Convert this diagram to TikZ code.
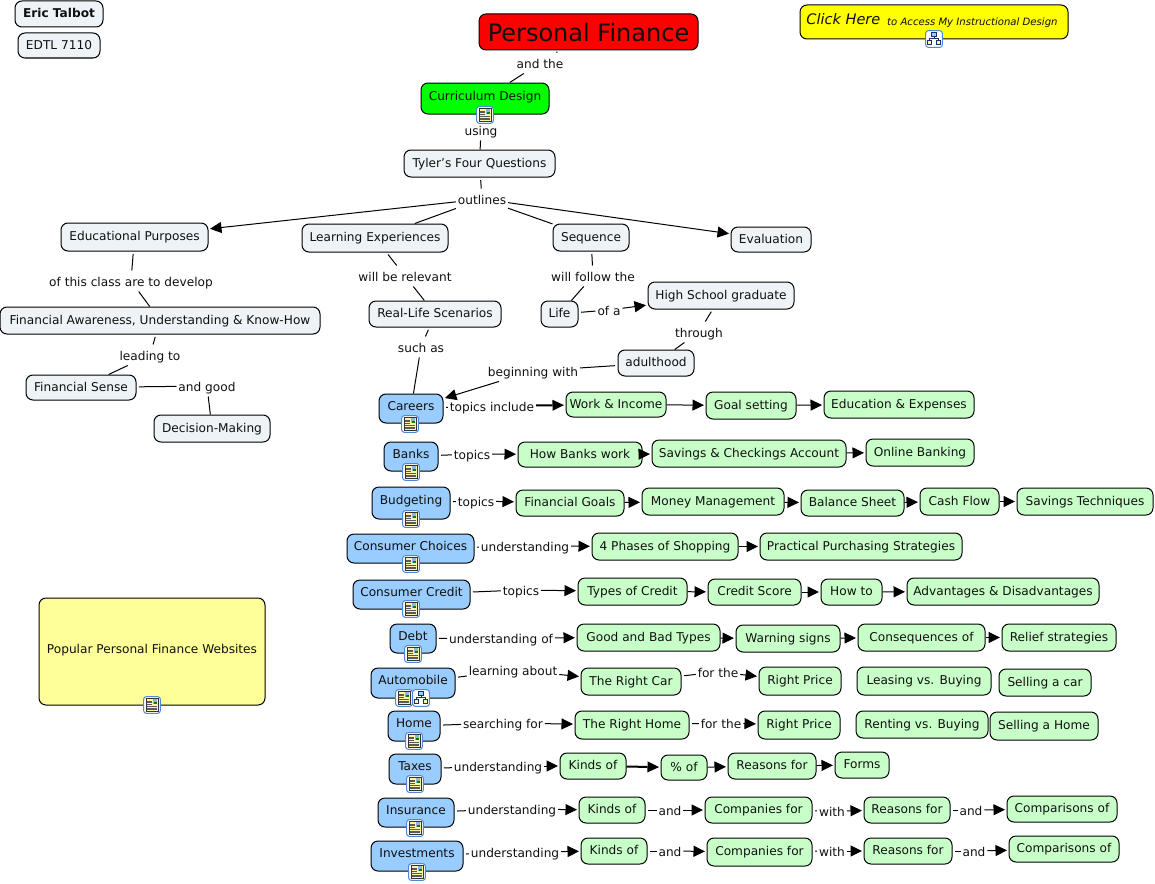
\documentclass[tikz,border=0pt]{standalone}
\usepackage{fontspec}
\setmainfont{DejaVu Sans}
\usetikzlibrary{arrows.meta}
\definecolor{cgrey}{HTML}{EDF3F6}
\definecolor{cblue}{HTML}{99CCFF}
\definecolor{cgreen}{HTML}{C8FFC8}
\definecolor{cyel}{HTML}{FFFF99}
\definecolor{cyellow}{HTML}{FFFF00}
\definecolor{iconblue}{HTML}{4F86D6}
\definecolor{iconnavy}{HTML}{1B2F6B}
\definecolor{iconyel}{HTML}{FFF3A8}
\definecolor{txt}{HTML}{101010}
\tikzset{
  concept/.style={draw=black,line width=1pt,rounded corners=7pt,inner sep=0pt,outer sep=0.5pt,
    font=\fontsize{12.15}{15}\selectfont,text height=10pt,text depth=2.5pt,fill=cgrey,text=txt},
  blue/.style={concept,fill=cblue},
  topicbox/.style={concept,fill=cgreen},
  lab/.style={inner sep=2pt,outer sep=0pt,minimum height=21pt,font=\fontsize{12.15}{15}\selectfont,text height=13pt,text depth=2pt,text=txt},
  link/.style={line width=1pt,shorten <=2.5pt},
  arr/.style={line width=1pt,shorten >=1.5pt,-{Triangle[length=11.5pt,width=11pt]}},
  thickarr/.style={line width=2pt,shorten >=1.5pt,-{Triangle[length=11.5pt,width=11pt,line width=0pt]}},
  docicon/.pic={
    \draw[iconblue,line width=1pt,fill=white,rounded corners=2.5pt] (-8.3,-8.3) rectangle (8.3,8.3);
    \draw[black!80,line width=.6pt,fill=iconyel] (-5.8,-6.3) rectangle (5.8,6.3);
    \fill[cblue!70!gray] (0.8,-5.8) rectangle (5.3,-1.2);
    \fill[green!50!black] (1.5,-2.6) rectangle (4.8,-1.3);
    \foreach \yy in {-4.2,-2.4,-0.6}{\draw[black!65,line width=.5pt] (-4.8,\yy) -- (0,\yy);}
    \foreach \yy in {1.2,3,4.7}{\draw[black!65,line width=.5pt] (-4.8,\yy) -- (4.8,\yy);}
  },
  mapicon/.pic={
    \draw[iconblue,line width=1pt,fill=white,rounded corners=2.5pt] (-8.3,-8.3) rectangle (8.3,8.3);
    \draw[iconnavy,line width=.8pt,fill=cblue] (-2.2,-6.3) rectangle (2.2,-2.8);
    \draw[iconnavy,line width=.8pt,fill=iconyel] (-6.3,1.6) rectangle (-2.6,5.8);
    \draw[iconnavy,line width=.8pt,fill=iconyel] (2.6,1.6) rectangle (6.3,5.8);
    \draw[iconnavy,line width=.8pt] (0,-2.8) -- (0,-.7) (-4.4,1.6) -- (-4.4,-.7) -- (4.4,-.7) -- (4.4,1.6);
  }
}
\newcommand\cbox[7][concept]{%
  \pgfmathsetmacro\cx{(#3+#5)/2}\pgfmathsetmacro\cy{(#4+#6)/2}%
  \pgfmathsetmacro\cw{#5-#3}\pgfmathsetmacro\ch{#6-#4}%
  \node[#1,minimum width=\cw pt,minimum height=\ch pt] (#2) at (\cx,\cy) {#7};}
\newcommand\tlab[4]{\node[lab] (#1) at (#2,#3) {#4};}
\newcommand\up[1]{\raisebox{1.8pt}{#1}}
\newcommand\via[3]{\draw[link] (#1) -- (#2); \draw[arr] (#2) -- (#3);}
\newcommand\plainvia[3]{\draw[link] (#1) -- (#2); \draw[line width=1pt] (#2) -- (#3);}
\begin{document}
\begin{tikzpicture}[x=1pt,y=-1pt]
\useasboundingbox (0,0) rectangle (1155,883);
% boxes
\cbox{eric}{15}{1}{103}{27}{\bfseries Eric Talbot}
\cbox{edtl}{18}{33}{100}{58}{EDTL 7110}
\cbox[concept,fill=red,font=\fontsize{24}{30}\selectfont,text height=22pt,text depth=3pt]{pf}{479}{14}{698}{50}{Personal Finance}
\cbox[concept,fill=cyellow]{click}{800}{5}{1068}{39}{\hspace{-4pt}\itshape\raisebox{1.5pt}{\fontsize{14.5}{15}\selectfont Click Here}\hspace{3pt} {\fontsize{10.1}{13}\selectfont to Access My Instructional Design}}
\cbox[concept,fill=green]{cd}{421}{83}{549}{114}{\up{Curriculum Design}}
\cbox{tyler}{404}{150}{555}{177}{Tyler's Four Questions}
\cbox{edu}{61}{223}{208}{251}{Educational Purposes}
\cbox{learn}{302}{224}{448}{252}{Learning Experiences}
\cbox{seq}{553}{224}{629}{251}{Sequence}
\cbox{eval}{731}{227}{811}{252}{Evaluation}
\cbox{real}{369}{301}{501}{327}{Real-Life Scenarios}
\cbox{life}{541}{301}{578}{327}{Life}
\cbox{hs}{648}{282}{794}{309}{High School graduate}
\cbox{adult}{618}{350}{694}{376}{adulthood}
\cbox{fa}{0}{307}{320}{334}{Financial Awareness, Understanding \& Know-How}
\cbox{fs}{26}{375}{136}{400}{Financial Sense}
\cbox{dm}{154}{415}{270}{442}{Decision-Making}
\cbox[concept,fill=cyel]{web}{39}{598}{265}{705}{\raisebox{2.25pt}{Popular Personal Finance Websites}}
% subject boxes
\cbox[blue]{careers}{379}{394}{443}{423}{\up{Careers}}
\cbox[blue]{banks}{384}{442}{438}{471}{\up{Banks}}
\cbox[blue]{budget}{372}{487}{450}{519}{\up{Budgeting}}
\cbox[blue]{choices}{347}{534}{474}{563}{\up{Consumer Choices}}
\cbox[blue]{credit}{353}{580}{470}{609}{\up{Consumer Credit}}
\cbox[blue]{debt}{390}{624}{436}{653}{\up{Debt}}
\cbox[blue]{auto}{371}{668}{455}{698}{\up{Automobile}}
\cbox[blue]{home}{388}{711}{440}{741}{\up{Home}}
\cbox[blue]{taxes}{389}{754}{441}{784}{\up{Taxes}}
\cbox[blue]{insur}{378}{798}{454}{827}{\up{Insurance}}
\cbox[blue]{invest}{371}{841}{463}{871}{\up{Investments}}
% topics
\cbox[topicbox]{work}{566}{392}{666}{417}{Work \& Income}
\cbox[topicbox]{goal}{706}{392}{796}{419}{Goal setting}
\cbox[topicbox]{eduexp}{824}{391}{974}{418}{Education \& Expenses}
\cbox[topicbox]{howb}{518}{442}{642}{467}{How Banks work}
\cbox[topicbox]{sav}{652}{440}{846}{467}{Savings \& Checkings Account}
\cbox[topicbox]{online}{866}{439}{974}{466}{Online Banking}
\cbox[topicbox]{fgoals}{516}{490}{624}{516}{Financial Goals}
\cbox[topicbox]{money}{642}{488}{784}{515}{Money Management}
\cbox[topicbox]{bal}{801}{490}{904}{516}{Balance Sheet}
\cbox[topicbox]{cash}{920}{488}{999}{515}{Cash Flow}
\cbox[topicbox]{savt}{1017}{488}{1153}{515}{Savings Techniques}
\cbox[topicbox]{phases}{592}{533}{738}{560}{4 Phases of Shopping}
\cbox[topicbox]{pract}{760}{533}{962}{560}{Practical Purchasing Strategies}
\cbox[topicbox]{types}{578}{578}{687}{605}{Types of Credit}
\cbox[topicbox]{score}{708}{579}{801}{605}{Credit Score}
\cbox[topicbox]{howto}{821}{579}{882}{605}{How to}
\cbox[topicbox]{adv}{907}{578}{1099}{605}{Advantages \& Disadvantages}
\cbox[topicbox]{gbt}{577}{624}{720}{651}{Good and Bad Types}
\cbox[topicbox]{warn}{736}{625}{840}{652}{Warning signs}
\cbox[topicbox]{conseq}{858}{624}{985}{651}{Consequences of}
\cbox[topicbox]{relief}{1002}{624}{1116}{651}{Relief strategies}
\cbox[topicbox]{rcar}{581}{668}{681}{695}{The Right Car}
\cbox[topicbox]{rp1}{759}{667}{841}{695}{Right Price}
\cbox[topicbox]{lease}{857}{667}{991}{695}{Leasing vs. Buying}
\cbox[topicbox]{scar}{999}{669}{1091}{696}{Selling a car}
\cbox[topicbox]{rhome}{575}{711}{689}{739}{The Right Home}
\cbox[topicbox]{rp2}{758}{711}{840}{739}{Right Price}
\cbox[topicbox]{rent}{856}{711}{988}{738}{Renting vs. Buying}
\cbox[topicbox]{shome}{990}{712}{1098}{740}{Selling a Home}
\cbox[topicbox]{tk}{560}{753}{626}{779}{Kinds of}
\cbox[topicbox]{tp}{661}{755}{707}{780}{\% of}
\cbox[topicbox]{tr}{728}{753}{816}{779}{Reasons for}
\cbox[topicbox]{tf}{835}{752}{889}{778}{Forms}
\cbox[topicbox]{ik}{579}{797}{645}{823}{Kinds of}
\cbox[topicbox]{ic}{705}{797}{812}{823}{Companies for}
\cbox[topicbox]{ir}{864}{797}{950}{823}{Reasons for}
\cbox[topicbox]{ip}{1007}{796}{1117}{822}{Comparisons of}
\cbox[topicbox]{vk}{581}{838}{647}{864}{Kinds of}
\cbox[topicbox]{vc}{707}{838}{812}{866}{Companies for}
\cbox[topicbox]{vr}{864}{838}{952}{864}{Reasons for}
\cbox[topicbox]{vp}{1009}{836}{1119}{862}{Comparisons of}
% labels
\tlab{landthe}{540}{63}{and the}
\tlab{lusing}{481}{130}{using}
\tlab{lout}{482}{199}{outlines}
\tlab{lrel}{405}{276}{will be relevant}
\tlab{lfollow}{593}{276}{will follow the}
\tlab{lofa}{609}{310}{of a}
\tlab{lthrough}{699}{332}{through}
\tlab{lbegin}{533}{371}{beginning with}
\tlab{lsuch}{421}{347}{such as}
\tlab{lclass}{131}{281}{of this class are to develop}
\tlab{llead}{150}{355}{leading to}
\tlab{lgood}{207}{386}{and good}
\tlab{lca}{492}{406}{topics include}
\tlab{lba}{472}{454}{topics}
\tlab{lbu}{476}{501}{topics}
\tlab{lch}{525}{546}{understanding}
\tlab{lcr}{521}{590}{topics}
\tlab{lde}{501}{638}{understanding of}
\tlab{lau}{513}{670}{learning about}
\tlab{lfor1}{718}{672}{for the}
\tlab{lho}{503}{723}{searching for}
\tlab{lfor2}{721}{723}{for the}
\tlab{lta}{498}{766}{understanding}
\tlab{lin}{512}{809}{understanding}
\tlab{lin2}{670}{810}{and}
\tlab{lin3}{832}{811}{with}
\tlab{lin4}{971}{810}{and}
\tlab{lve}{515}{852}{understanding}
\tlab{lve2}{670}{851}{and}
\tlab{lve3}{832}{851}{with}
\tlab{lve4}{974}{851}{and}
% connectors
\plainvia{pf}{landthe}{cd}
\plainvia{cd}{lusing}{tyler}
\draw[link] (tyler) -- (lout);
\draw[arr] (lout) -- (edu);
\draw[line width=1pt] (lout) -- (learn);
\draw[line width=1pt] (lout) -- (seq);
\draw[arr] (lout) -- (eval);
\plainvia{edu}{lclass}{fa}
\plainvia{fa}{llead}{fs}
\plainvia{fs}{lgood}{dm}
\plainvia{learn}{lrel}{real}
\plainvia{real}{lsuch}{careers}
\plainvia{seq}{lfollow}{life}
\via{life}{lofa}{hs}
\plainvia{hs}{lthrough}{adult}
\via{adult}{lbegin}{careers}
\draw[link] (careers) -- (lca); \draw[thickarr] (lca) -- (work);
\draw[arr] (work) -- (goal);
\draw[arr] (goal) -- (eduexp);
\via{banks}{lba}{howb}
\draw[arr] (howb) -- (sav);
\draw[arr] (sav) -- (online);
\via{budget}{lbu}{fgoals}
\draw[arr] (fgoals) -- (money);
\draw[arr] (money) -- (bal);
\draw[arr] (bal) -- (cash);
\draw[arr] (cash) -- (savt);
\via{choices}{lch}{phases}
\draw[arr] (phases) -- (pract);
\via{credit}{lcr}{types}
\draw[arr] (types) -- (score);
\draw[arr] (score) -- (howto);
\draw[arr] (howto) -- (adv);
\via{debt}{lde}{gbt}
\draw[arr] (gbt) -- (warn);
\draw[arr] (warn) -- (conseq);
\draw[arr] (conseq) -- (relief);
\via{auto}{lau}{rcar}
\via{rcar}{lfor1}{rp1}
\via{home}{lho}{rhome}
\via{rhome}{lfor2}{rp2}
\via{taxes}{lta}{tk}
\draw[thickarr] (tk) -- (tp);
\draw[arr] (tp) -- (tr);
\draw[arr] (tr) -- (tf);
\via{insur}{lin}{ik}
\via{ik}{lin2}{ic}
\via{ic}{lin3}{ir}
\via{ir}{lin4}{ip}
\via{invest}{lve}{vk}
\via{vk}{lve2}{vc}
\via{vc}{lve3}{vr}
\via{vr}{lve4}{vp}
% icons
\pic at (485,115) {docicon};
\pic at (934,39) {mapicon};
\pic at (152,705) {docicon};
\pic at (410,424) {docicon};
\pic at (411,472) {docicon};
\pic at (411,519) {docicon};
\pic at (411,564) {docicon};
\pic at (411,609) {docicon};
\pic at (413,654) {docicon};
\pic at (404,698) {docicon};
\pic at (421,698) {mapicon};
\pic at (414,741) {docicon};
\pic at (415,784) {docicon};
\pic at (415,828) {docicon};
\pic at (417,872) {docicon};
\end{tikzpicture}
\end{document}
